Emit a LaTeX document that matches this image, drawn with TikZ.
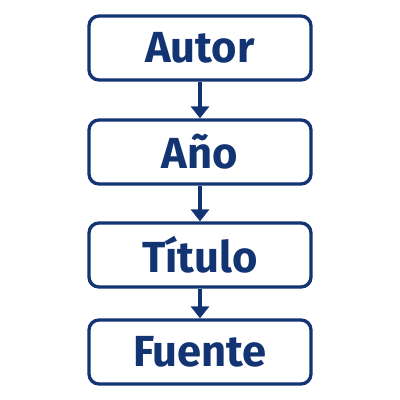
\documentclass[tikz,border=0pt]{standalone}
\usepackage{fontspec}
\setmainfont{Fira Sans}
\usetikzlibrary{arrows.meta}
\definecolor{navy}{RGB}{18,52,115}
\tikzset{
  box/.style={draw=navy, line width=3.3pt, rounded corners=10pt, minimum width=222pt, minimum height=64pt, inner sep=0pt, text=navy, font=\fontsize{43.5}{43.5}\selectfont\bfseries},
  conn/.style={draw=navy, line width=3.3pt, -{Triangle[length=12pt,width=18pt]}}
}
\begin{document}
\begin{tikzpicture}[x=1pt,y=1pt]
\useasboundingbox (0,0) rectangle (400,-400);
\node[box] (a) at (200,-48) {Autor};
\node[box] (b) at (200,-152) {Año};
\node[box] (c) at (200,-255) {Título};
\node[box] (d) at (200,-352) {Fuente};
\draw[conn] (a) -- (b);
\draw[conn] (b) -- (c);
\draw[conn] (c) -- (d);
\end{tikzpicture}
\end{document}
